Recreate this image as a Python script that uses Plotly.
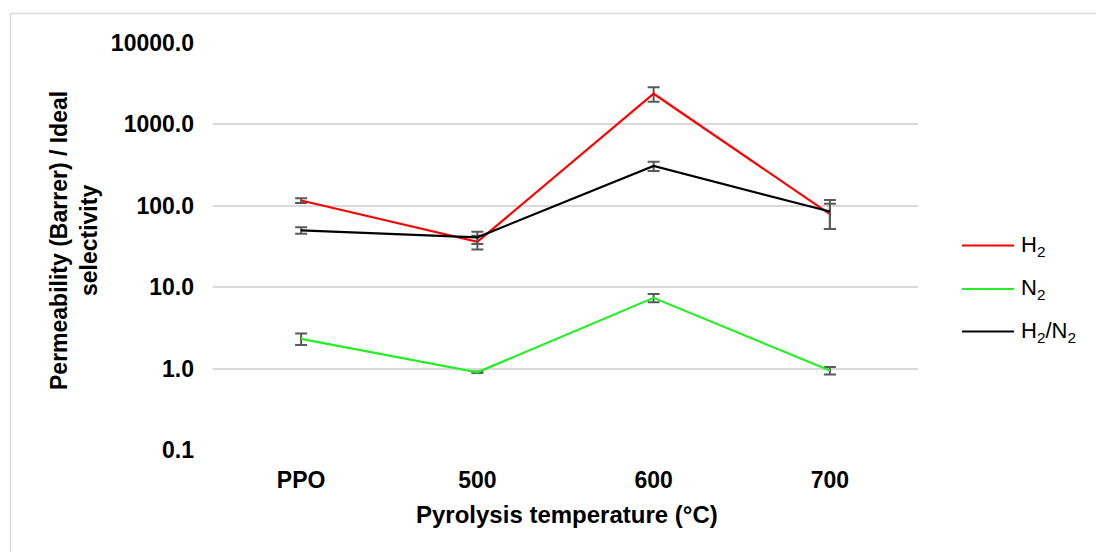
import plotly.graph_objects as go

# ---- data ----
categories = ["PPO", "500", "600", "700"]
series_names = ["H<sub>2</sub>", "N<sub>2</sub>", "H<sub>2</sub>/N<sub>2</sub>"]
h2_values = [116, 36, 2380, 79]
h2_errors = [8, 7, 480, 27]
n2_values = [2.32, 0.90, 7.4, 0.945]
n2_errors = [0.37, 0.02, 0.85, 0.1]
sel_values = [50, 41, 308, 85]
sel_errors = [4.5, 7, 40, 33]
y_tickvals = [0.1, 1, 10, 100, 1000, 10000]
y_ticktext = ["0.1", "1.0", "10.0", "100.0", "1000.0", "10000.0"]
x_title = "Pyrolysis temperature (°C)"
y_title = "Permeability (Barrer) / Ideal<br>selectivity"

colors = ["#FF0000", "#22F022", "#000000"]
err_color = "#595959"

W, H = 1096, 552
L, R, T, B = 213, 918, 43, 450
FONT = "Liberation Sans, Arial, sans-serif"

def px(x):
    return (x - L) / (R - L)

def py(y):
    return (B - y) / (B - T)

fig = go.Figure()
for name, vals, errs, col in zip(series_names, [h2_values, n2_values, sel_values],
                                 [h2_errors, n2_errors, sel_errors], colors):
    fig.add_trace(go.Scatter(
        x=categories, y=vals, name=name, mode="lines",
        line=dict(color=col, width=2.2),
        error_y=dict(type="data", array=errs, visible=True,
                     color=err_color, thickness=2, width=6),
        showlegend=False,
    ))

fig.update_layout(
    width=W, height=H,
    margin=dict(l=L, r=W - R, t=T, b=H - B),
    paper_bgcolor="white", plot_bgcolor="white",
    font=dict(family=FONT, color="#000000", size=23),
    xaxis=dict(
        type="category", range=[-0.5, 3.5], showgrid=False, zeroline=False,
        showline=False, ticks="", ticklabelstandoff=14,
        tickvals=categories, ticktext=["<b>" + c + "</b>" for c in categories],
        tickfont=dict(size=23, family=FONT, color="#000000"),
    ),
    yaxis=dict(
        type="log", range=[-1, 4], tickvals=y_tickvals,
        ticktext=["<b>" + t + "</b>" for t in y_ticktext],
        showgrid=True, gridcolor="#d9d9d9", gridwidth=1.5, zeroline=False,
        showline=False, ticks="", ticklabelstandoff=18,
        tickfont=dict(size=23, family=FONT, color="#000000"),
    ),
)

annotations = [
    dict(text="<b>" + x_title + "</b>", xref="paper", yref="paper",
         x=px(566.7), y=py(514), xanchor="center", yanchor="middle",
         showarrow=False, font=dict(size=24, family=FONT, color="#000000")),
    dict(text="<b>" + y_title + "</b>", xref="paper", yref="paper",
         x=px(74), y=py(241), xanchor="center", yanchor="middle",
         textangle=-90, showarrow=False,
         font=dict(size=23, family=FONT, color="#000000")),
]
shapes = [
    dict(type="rect", xref="paper", yref="paper",
         x0=px(10.5), x1=px(1110), y0=py(13.5), y1=py(570),
         line=dict(color="#d9d9d9", width=1.5), fillcolor="rgba(0,0,0,0)",
         layer="below"),
]
legend_y = [245.5, 289, 331.5]
for name, col, ly in zip(series_names, colors, legend_y):
    shapes.append(dict(type="line", xref="paper", yref="paper",
                       x0=px(962), x1=px(1014), y0=py(ly), y1=py(ly),
                       line=dict(color=col, width=2.2)))
    annotations.append(dict(text=name, xref="paper", yref="paper",
                            x=px(1019), y=py(ly), xanchor="left", yanchor="middle",
                            showarrow=False,
                            font=dict(size=22, family=FONT, color="#000000")))

fig.update_layout(annotations=annotations, shapes=shapes)
fig.write_html("out.html")
